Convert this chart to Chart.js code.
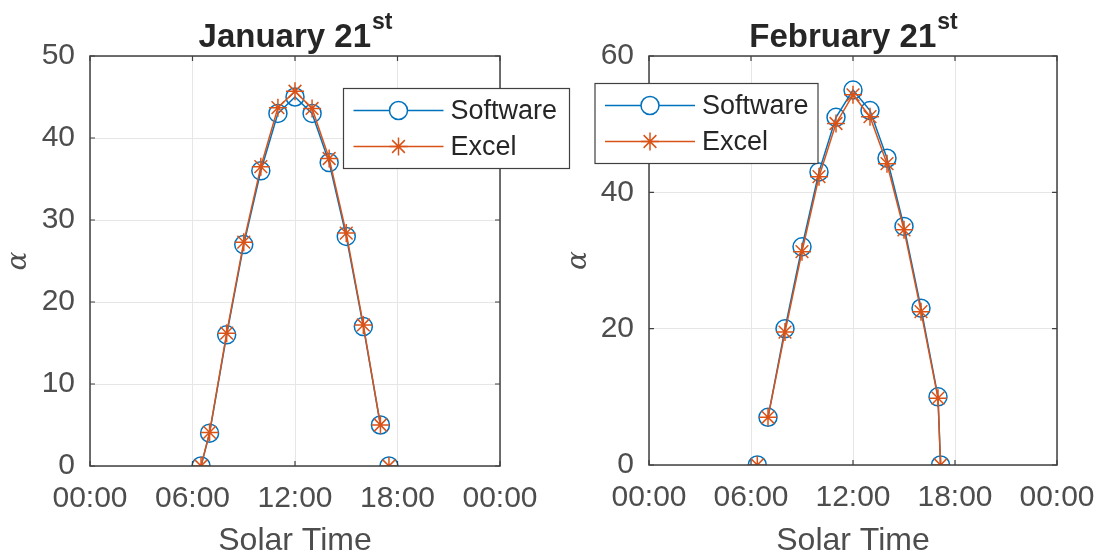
<!DOCTYPE html>
<html>
<head>
<meta charset="utf-8">
<script src="https://cdn.jsdelivr.net/npm/chart.js@4.4.0/dist/chart.umd.min.js"></script>
<style>
  html, body { margin: 0; padding: 0; background: #fff; }
  #wrap { position: relative; width: 1101px; height: 560px; overflow: hidden; }
  #wrap canvas { position: absolute; top: 0; }
</style>
</head>
<body>
<div id="wrap">
  <canvas id="chartJan" width="600" height="560" style="left:0"></canvas>
  <canvas id="chartFeb" width="580" height="560" style="left:560px"></canvas>
</div>
<script>
// ---------- data (solar time in hours, altitude alpha in degrees) ----------
const janHours    = [6.5, 7, 8, 9, 10, 11, 12, 13, 14, 15, 16, 17, 17.5];
const janSoftware = [0, 4, 16, 27, 36, 43, 45, 43, 37, 28, 17, 5, 0];
const janExcel    = [0, 4.1, 16.2, 27.3, 36.5, 43.7, 45.7, 43.6, 37.5, 28.4, 17.2, 5, 0];

const febHours    = [6.37, 7, 8, 9, 10, 11, 12, 13, 14, 15, 16, 17, 17.15];
const febSoftware = [0, 7, 20, 32, 43, 51, 55, 52, 45, 35, 23, 10, 0];
const febExcel    = [0, 7, 19.5, 31.3, 42.3, 50.1, 54.3, 51.1, 44.2, 34.5, 22.5, 9.8, 0];

const xTickHours = [0, 6, 12, 18, 24];
const janYTicks  = [0, 10, 20, 30, 40, 50];
const febYTicks  = [0, 20, 40, 60];

const seriesNames = ["Software", "Excel"];

// ---------- styles ----------
const BLUE = "#0072BD";
const ORANGE = "#D95319";
const AXIS = "#404040";
const TEXT = "#4d4d4d";
const DARK = "#262626";
const GRID = "#e6e6e6";
const SANS = "'Liberation Sans', Arial, sans-serif";

function hhmm(v) {
  const h = Math.round(v) % 24;
  return (h < 10 ? "0" : "") + h + ":00";
}

function toPoints(xs, ys) {
  return xs.map((x, i) => ({ x: x, y: ys[i] }));
}

// MATLAB-like frame, inward ticks, title with superscript, boxed legend
const matlabPlugin = {
  id: "matlabLook",
  afterDraw(chart, args, opts) {
    const ctx = chart.ctx;
    const a = chart.chartArea;
    const xs = chart.scales.x, ys = chart.scales.y;
    ctx.save();

    // frame
    ctx.strokeStyle = AXIS;
    ctx.lineWidth = 1.5;
    ctx.strokeRect(a.left, a.top, a.right - a.left, a.bottom - a.top);

    // inward ticks
    ctx.lineWidth = 1.2;
    ctx.beginPath();
    xs.ticks.forEach(t => {
      const px = xs.getPixelForValue(t.value);
      ctx.moveTo(px, a.bottom); ctx.lineTo(px, a.bottom - 5);
      ctx.moveTo(px, a.top); ctx.lineTo(px, a.top + 5);
    });
    ys.ticks.forEach(t => {
      const py = ys.getPixelForValue(t.value);
      ctx.moveTo(a.left, py); ctx.lineTo(a.left + 5, py);
      ctx.moveTo(a.right, py); ctx.lineTo(a.right - 5, py);
    });
    ctx.stroke();

    // title with superscript
    const cx = (a.left + a.right) / 2;
    ctx.fillStyle = DARK;
    ctx.textBaseline = "alphabetic";
    ctx.textAlign = "left";
    ctx.font = "bold 33px " + SANS;
    const wMain = ctx.measureText(opts.main).width;
    ctx.font = "bold 23px " + SANS;
    const wSup = ctx.measureText(opts.sup).width;
    const x0 = cx - (wMain + wSup) / 2;
    ctx.font = "bold 33px " + SANS;
    ctx.fillText(opts.main, x0, 47);
    ctx.font = "bold 23px " + SANS;
    ctx.fillText(opts.sup, x0 + wMain + 1, 29);

    // legend
    const lg = opts.legend;
    ctx.fillStyle = "#fff";
    ctx.fillRect(lg.x, lg.y, lg.w, lg.h);
    ctx.strokeStyle = AXIS;
    ctx.lineWidth = 1.2;
    ctx.strokeRect(lg.x, lg.y, lg.w, lg.h);
    [0, 1].forEach((i, row) => {
      const ds = chart.data.datasets[i];
      const ry = lg.y + 22 + row * 36;
      ctx.strokeStyle = ds.borderColor;
      ctx.lineWidth = 1.5;
      ctx.beginPath();
      ctx.moveTo(lg.x + 10, ry);
      ctx.lineTo(lg.x + 100, ry);
      ctx.stroke();
      ctx.strokeStyle = ds.pointBorderColor;
      Chart.helpers.drawPoint(ctx, {
        pointStyle: ds.pointStyle, radius: ds.pointRadius,
        borderWidth: ds.pointBorderWidth, rotation: 0
      }, lg.x + 55, ry);
      ctx.fillStyle = DARK;
      ctx.font = "27px " + SANS;
      ctx.textBaseline = "middle";
      ctx.fillText(ds.label, lg.x + 107, ry + 1);
    });
    ctx.restore();
  }
};

function makeChart(id, hours, soft, excel, yMax, yStep, gapAfter, title, legendBox, axisW, axisH, padRight) {
  const hideGap = c => (c.p0DataIndex === gapAfter ? "rgba(0,0,0,0)" : undefined);
  return new Chart(document.getElementById(id), {
    type: "scatter",
    data: {
      datasets: [
        {
          label: seriesNames[0],
          data: toPoints(hours, soft),
          showLine: true,
          borderColor: BLUE,
          borderWidth: 1.5,
          pointStyle: "circle",
          pointRadius: 9,
          pointBorderWidth: 1.5,
          pointBorderColor: BLUE,
          pointBackgroundColor: "rgba(0,0,0,0)",
          segment: { borderColor: hideGap },
          order: 1
        },
        {
          label: seriesNames[1],
          data: toPoints(hours, excel),
          showLine: true,
          borderColor: ORANGE,
          borderWidth: 1.5,
          pointStyle: "star",
          pointRadius: 9,
          pointBorderWidth: 1.5,
          pointBorderColor: ORANGE,
          pointBackgroundColor: ORANGE,
          segment: { borderColor: hideGap },
          order: 0
        }
      ]
    },
    options: {
      responsive: false,
      animation: false,
      devicePixelRatio: 1,
      layout: { padding: { top: 56, right: padRight, bottom: 0, left: 0 } },
      plugins: {
        legend: { display: false },
        tooltip: { enabled: false },
        matlabLook: { main: title[0], sup: title[1], legend: legendBox }
      },
      scales: {
        x: {
          type: "linear",
          min: 0, max: 24,
          afterBuildTicks: s => { s.ticks = xTickHours.map(v => ({ value: v })); },
          afterFit: s => { s.height = axisH; },
          ticks: { callback: v => hhmm(v), color: TEXT, font: { family: SANS, size: 30 }, padding: 15, maxRotation: 0 },
          grid: { color: GRID, lineWidth: 1, drawTicks: false },
          border: { display: false },
          title: { display: true, text: "Solar Time", color: TEXT, font: { family: SANS, size: 32 }, padding: { top: 4, bottom: 0 } }
        },
        y: {
          min: 0, max: yMax,
          afterBuildTicks: s => { s.ticks = yStep.map(v => ({ value: v })); },
          afterFit: s => { s.width = axisW; },
          ticks: { color: TEXT, font: { family: SANS, size: 30 }, padding: 15 },
          grid: { color: GRID, lineWidth: 1, drawTicks: false },
          border: { display: false },
          title: { display: true, text: "α", color: TEXT, font: { family: "'DejaVu Serif', serif", size: 28, style: "italic" }, padding: 2 }
        }
      }
    },
    plugins: [matlabPlugin]
  });
}

makeChart("chartJan", janHours, janSoftware, janExcel, 50, janYTicks, 11,
  ["January 21", "st"], { x: 343.5, y: 88.5, w: 226, h: 80 }, 90, 94, 100);
makeChart("chartFeb", febHours, febSoftware, febExcel, 60, febYTicks, 0,
  ["February 21", "st"], { x: 35, y: 83.5, w: 223, h: 80 }, 89, 95, 83);
</script>
</body>
</html>
